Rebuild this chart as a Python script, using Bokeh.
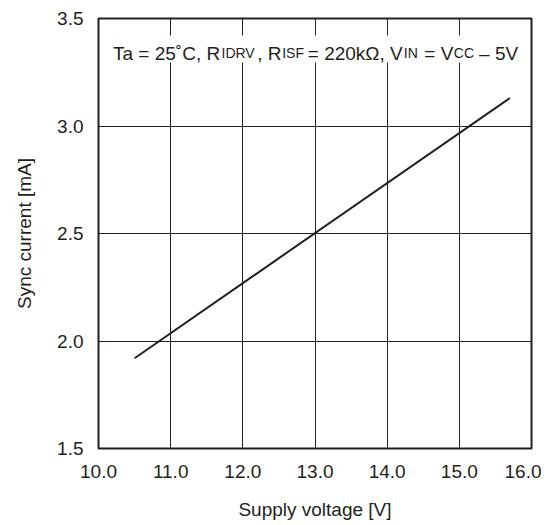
from bokeh.plotting import figure
from bokeh.models import FixedTicker, BoxAnnotation, Label, Range1d
from bokeh.embed import file_html
from bokeh.resources import INLINE

# ---- data ----
supply_voltage = [10.5, 15.7]          # V
sync_current = [1.92, 3.13]            # mA

x_ticks = [10, 11, 12, 13, 14, 15, 16]
x_tick_labels = ["10.0", "11.0", "12.0", "13.0", "14.0", "15.0", "16.0"]
y_ticks = [1.5, 2.0, 2.5, 3.0, 3.5]
y_tick_labels = ["1.5", "2.0", "2.5", "3.0", "3.5"]

x_title = "Supply voltage [V]"
y_title = "Sync current [mA]"

NB = "\u00a0"
# annotation pieces: (text, is_small)
note_parts = [
    ("Ta = 25˚C, R", False), ("IDRV", True), (", R", False), ("ISF", True),
    (NB + "= 220kΩ, V", False), ("IN", True), (NB + "= V", False), ("CC", True),
    (NB + "– 5V", False),
]
note_starts_px = [112.5, 221.0, 256.8, 281.7, 302.0, 403.3, 418.5, 453.3, 473.3]

FONT = "Liberation Sans"
INK = "#231f20"

XMIN, XMAX, YMIN, YMAX = 10.0, 16.0, 1.5, 3.5
FW, FH = 433, 430
FL, FT = 98, 18   # frame left/top in page pixels


def px_to_x(px):
    return XMIN + (px - FL) * (XMAX - XMIN) / FW


def py_to_y(py):
    return YMAX - (py - FT) * (YMAX - YMIN) / FH


p = figure(
    frame_width=FW, frame_height=FH,
    x_range=Range1d(XMIN, XMAX), y_range=Range1d(YMIN, YMAX),
    output_backend="svg", toolbar_location=None,
    min_border_left=98, min_border_right=10, min_border_top=18, min_border_bottom=62,
    background_fill_color="white", border_fill_color="white",
)

p.outline_line_color = INK
p.outline_line_width = 2

p.xaxis.ticker = FixedTicker(ticks=x_ticks)
p.yaxis.ticker = FixedTicker(ticks=y_ticks)
p.xaxis.major_label_overrides = {t: s for t, s in zip(x_ticks, x_tick_labels)}
p.yaxis.major_label_overrides = {t: s for t, s in zip(y_ticks, y_tick_labels)}

for ax in (p.xaxis, p.yaxis):
    ax.axis_line_color = None
    ax.major_tick_line_color = None
    ax.minor_tick_line_color = None
    ax.major_tick_out = 0
    ax.major_tick_in = 0
    ax.minor_tick_out = 0
    ax.minor_tick_in = 0
    ax.major_label_text_font = FONT
    ax.major_label_text_font_size = "19px"
    ax.major_label_text_color = INK
    ax.axis_label_text_font = FONT
    ax.axis_label_text_font_size = "19px"
    ax.axis_label_text_font_style = "normal"
    ax.axis_label_text_color = INK

p.xaxis.axis_label = x_title
p.yaxis.axis_label = y_title
p.xaxis.major_label_standoff = 16
p.yaxis.major_label_standoff = 15
p.xaxis.axis_label_standoff = 18
p.yaxis.axis_label_standoff = 19

p.grid.grid_line_color = INK
p.grid.grid_line_width = 1
p.xgrid.ticker = FixedTicker(ticks=x_ticks)
p.ygrid.ticker = FixedTicker(ticks=y_ticks)

p.line(supply_voltage, sync_current, line_color=INK, line_width=2)

# white box behind condition text
p.add_layout(BoxAnnotation(left=px_to_x(105), right=px_to_x(524),
                           top=py_to_y(35), bottom=py_to_y(62),
                           fill_color="white", fill_alpha=1.0, line_color=None))

base_y = py_to_y(52.5)
for (txt, small), sx in zip(note_parts, note_starts_px):
    p.add_layout(Label(x=px_to_x(sx), y=base_y, text=txt,
                       text_font=FONT, text_font_size="14px" if small else "19px",
                       text_color=INK, text_align="left", text_baseline="alphabetic"))

open("out.html", "w").write(file_html(p, INLINE))
